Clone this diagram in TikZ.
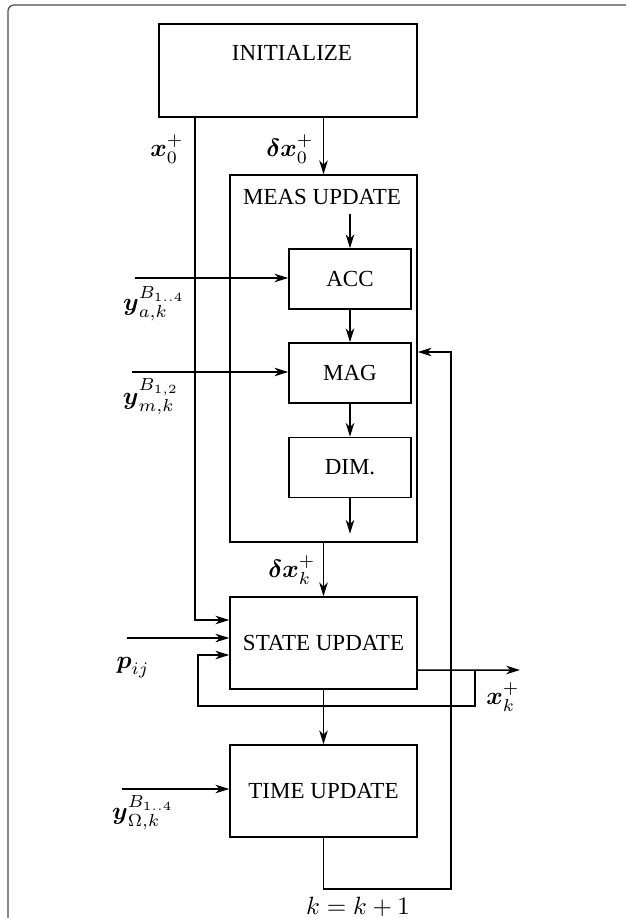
\documentclass[tikz,border=0pt]{standalone}
\usepackage{amsmath}
\usepackage{fontspec}
\setmainfont{Liberation Serif}
\usetikzlibrary{arrows.meta, positioning, calc}
\tikzstyle{block} = [rectangle, draw=black, line width=0.6pt, inner sep=0pt]
\tikzstyle{wide} = [block, minimum width=74.8pt]
\tikzstyle{subblock} = [block, minimum width=48.8pt, minimum height=24pt]
\tikzstyle{flow} = [line width=0.6pt, -{Stealth[length=5.5pt,width=3.4pt,inset=1.6pt]}]
\tikzstyle{sig} = [inner sep=0pt, font=\fontsize{9.8}{12}\selectfont]
\tikzstyle{frame} = [line width=0.5pt, draw=black!70]

\begin{document}
\begin{tikzpicture}[x=0.4pt, y=-0.4pt, font=\fontsize{9.2}{11}\selectfont]
  \useasboundingbox (0,0) rectangle (626,918);
  \draw [frame, rounded corners=2.4pt] (626,5) -- (8,5) -- (8,918);

  % blocks
  \node (init) [block, minimum width=103.2pt, minimum height=37.2pt] at (288,70.5) {};
  \node (initname) at (292,53) {INITIALIZE};
  \node (meas) [wide, minimum height=146.8pt] at (323.5,358.5) {};
  \node (measname) at (322,197) {MEAS UPDATE};
  \node (acc) [subblock] at (350,279) {ACC};
  \node (mag) [subblock] at (350,373) {MAG};
  \node (dim) [subblock] at (350,467.5) {DIM.};
  \node (state) [wide, minimum height=36.8pt] at (323.5,643) {STATE UPDATE};
  \node (time) [wide, minimum height=36.8pt] at (323.5,791) {TIME UPDATE};

  % free ends
  \coordinate (ya) at (135,278);
  \coordinate (ym) at (132,372);
  \coordinate (pin) at (127,638);
  \coordinate (yom) at (122,789);
  \coordinate (xout) at (520,670);
  \coordinate (fbr) at (475,670);
  \coordinate (fbl) at (198,706);
  \coordinate (loopc) at (451,889);

  % labels
  \node (lx0) [sig] at (167,149) {$\boldsymbol{x}_0^+$};
  \node (ldx0) [sig] at (290,149) {$\boldsymbol{\delta x}_0^+$};
  \node (lya) [sig] at (154,304) {$\boldsymbol{y}_{a,k}^{B_{1..4}}$};
  \node (lym) [sig] at (151,397) {$\boldsymbol{y}_{m,k}^{B_{1,2}}$};
  \node (ldxk) [sig] at (292,570) {$\boldsymbol{\delta x}_k^+$};
  \node (lp) [sig] at (133,668) {$\boldsymbol{p}_{ij}$};
  \node (lxk) [sig] at (503,697) {$\boldsymbol{x}_k^+$};
  \node (lyo) [sig] at (143,813) {$\boldsymbol{y}_{\Omega,k}^{B_{1..4}}$};
  \node (lk) [sig] at (358,907) {$k=k+1$};

  % connectors
  \draw [flow] ([xshift=-37.2pt]init.south) |- ([yshift=9.2pt]state.west);
  \draw [flow] (init.south -| meas.north) -- (meas.north);
  \draw [flow] ([yshift=-16pt]meas.north -| acc.north) -- (acc.north);
  \draw [flow] (ya) -- (ya -| acc.west);
  \draw [flow] (acc) -- (mag);
  \draw [flow] (ym) -- (ym -| mag.west);
  \draw [flow] (mag) -- (dim);
  \draw [flow] (dim.south) -- ([yshift=3.6pt]meas.south -| dim.south);
  \draw [flow] (meas.south) -- (state.north);
  \draw [flow] (pin) -- (pin -| state.west);
  \draw [flow] ([yshift=-10.8pt]state.east) -- (xout);
  \draw [flow] (fbr) |- (fbl) |- ([yshift=-4.8pt]state.west);
  \draw [flow] (state) -- (time);
  \draw [flow] (yom) -- (yom -| time.west);
  \draw [flow] (time.south) |- (loopc) |- ([yshift=2.6pt]meas.east);
\end{tikzpicture}
\end{document}
